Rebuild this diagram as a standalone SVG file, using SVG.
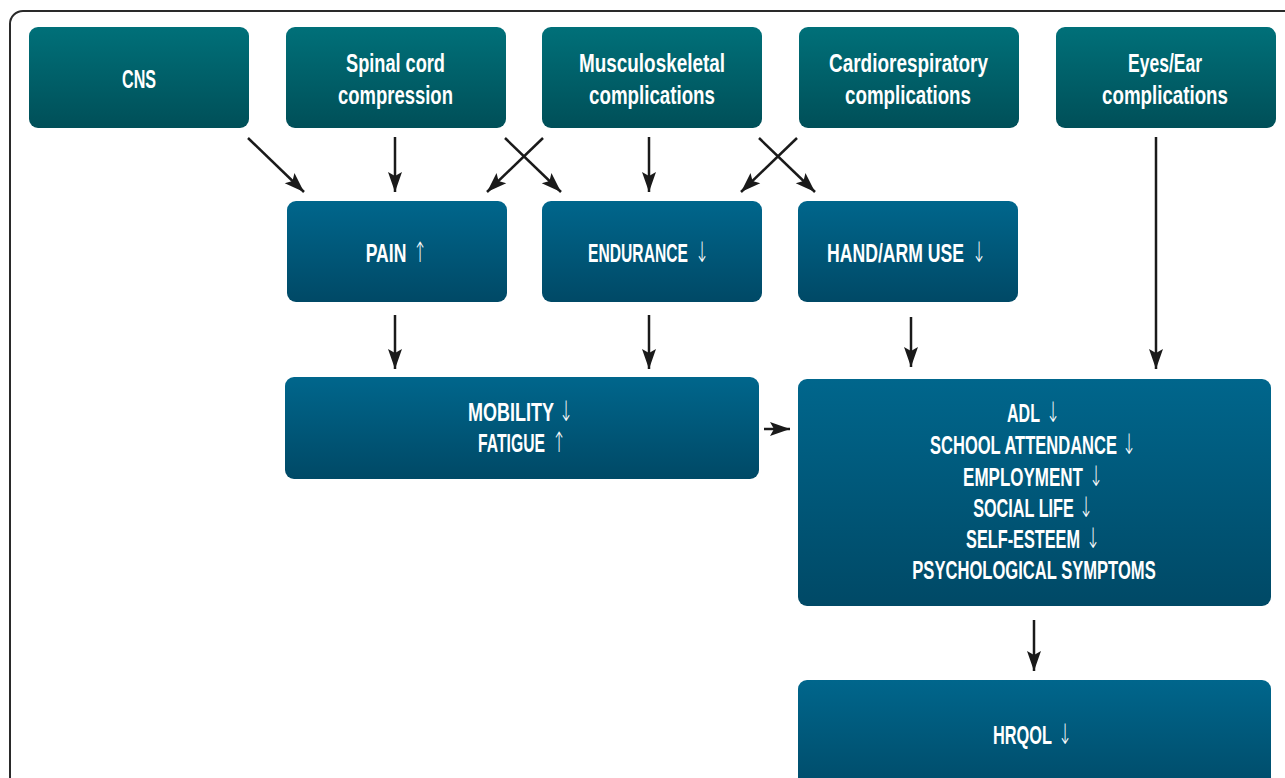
<svg xmlns="http://www.w3.org/2000/svg" width="1285" height="778" viewBox="0 0 1285 778">
<defs>
<linearGradient id="gT" x1="0" y1="0" x2="0" y2="1">
<stop offset="0" stop-color="#007079"/><stop offset="1" stop-color="#004f58"/>
</linearGradient>
<linearGradient id="gB" x1="0" y1="0" x2="0" y2="1">
<stop offset="0" stop-color="#00668c"/><stop offset="1" stop-color="#004966"/>
</linearGradient>
<marker id="ah" viewBox="0 0 20 16" refX="20" refY="8" markerWidth="20" markerHeight="16" markerUnits="userSpaceOnUse" orient="auto">
<path d="M0,1 L20,8 L0,15 L4,8 Z" fill="#1a1a1a"/>
</marker>
</defs>
<style>
.t{fill:url(#gT);}
.b{fill:url(#gB);}
text{font-family:"Liberation Sans",Arial,sans-serif;font-weight:bold;font-size:25px;fill:#fff;text-anchor:middle;}
.ar{font-family:"DejaVu Sans ExtraLight","DejaVu Sans",sans-serif;font-weight:200;font-size:28px;}
.c line{stroke:#1a1a1a;stroke-width:2.5;marker-end:url(#ah);}
</style>
<rect x="10" y="11" width="1320" height="820" rx="13" fill="#fff" stroke="#2a2a2a" stroke-width="2"/>

<g id="cns"><rect class="t" x="29" y="27" width="220" height="101" rx="9"/><text transform="translate(139,88) scale(0.644,1)">CNS</text></g>
<g id="spinal"><rect class="t" x="286" y="27" width="220" height="101" rx="9"/><text transform="translate(395.5,72) scale(0.727,1)">Spinal cord</text><text transform="translate(395.5,104) scale(0.738,1)">compression</text></g>
<g id="musculo"><rect class="t" x="542" y="27" width="220" height="101" rx="9"/><text transform="translate(652,72) scale(0.756,1)">Musculoskeletal</text><text transform="translate(652,104) scale(0.75,1)">complications</text></g>
<g id="cardio"><rect class="t" x="799" y="27" width="220" height="101" rx="9"/><text transform="translate(908.5,72) scale(0.758,1)">Cardiorespiratory</text><text transform="translate(908,104) scale(0.75,1)">complications</text></g>
<g id="eyes"><rect class="t" x="1056" y="27" width="220" height="101" rx="9"/><text transform="translate(1165,72) scale(0.70,1)">Eyes/Ear</text><text transform="translate(1165,104) scale(0.75,1)">complications</text></g>

<g id="pain"><rect class="b" x="287" y="201" width="220" height="101" rx="9"/><text transform="translate(386,262) scale(0.703,1)">PAIN</text><text class="ar" transform="translate(420,262) scale(0.6,1)">↑</text></g>
<g id="endurance"><rect class="b" x="542" y="201" width="220" height="101" rx="9"/><text transform="translate(638,262) scale(0.626,1)">ENDURANCE</text><text class="ar" transform="translate(702,262) scale(0.6,1)">↓</text></g>
<g id="hand"><rect class="b" x="798" y="201" width="220" height="101" rx="9"/><text transform="translate(895.5,262) scale(0.705,1)">HAND/ARM USE</text><text class="ar" transform="translate(979,262) scale(0.6,1)">↓</text></g>

<g id="mobility"><rect class="b" x="285" y="377" width="474" height="102" rx="9"/>
<text transform="translate(511,421) scale(0.72,1)">MOBILITY</text><text class="ar" transform="translate(566,421) scale(0.6,1)">↓</text>
<text transform="translate(511.5,452) scale(0.629,1)">FATIGUE</text><text class="ar" transform="translate(559,452) scale(0.6,1)">↑</text></g>
<g id="adl"><rect class="b" x="798" y="379" width="473" height="227" rx="9"/>
<text transform="translate(1023.5,422) scale(0.642,1)">ADL</text><text class="ar" transform="translate(1053,422) scale(0.6,1)">↓</text>
<text transform="translate(1023.5,454) scale(0.661,1)">SCHOOL ATTENDANCE</text><text class="ar" transform="translate(1129,454) scale(0.6,1)">↓</text>
<text transform="translate(1023,486) scale(0.68,1)">EMPLOYMENT</text><text class="ar" transform="translate(1096,486) scale(0.6,1)">↓</text>
<text transform="translate(1023.5,517) scale(0.649,1)">SOCIAL LIFE</text><text class="ar" transform="translate(1086,517) scale(0.6,1)">↓</text>
<text transform="translate(1023,548) scale(0.651,1)">SELF-ESTEEM</text><text class="ar" transform="translate(1093,548) scale(0.6,1)">↓</text>
<text transform="translate(1034,579) scale(0.663,1)">PSYCHOLOGICAL SYMPTOMS</text></g>
<g id="hrqol"><rect class="b" x="798" y="680" width="473" height="120" rx="9"/><text transform="translate(1022.5,744) scale(0.653,1)">HRQOL</text><text class="ar" transform="translate(1065,744) scale(0.6,1)">↓</text></g>

<g class="c" id="connectors">
<line x1="248" y1="138" x2="304" y2="192"/>
<line x1="395" y1="137" x2="395" y2="192"/>
<line x1="505" y1="138" x2="561" y2="192"/>
<line x1="543" y1="138" x2="487" y2="192"/>
<line x1="649" y1="137" x2="649" y2="192"/>
<line x1="759" y1="138" x2="815" y2="192"/>
<line x1="797" y1="138" x2="741" y2="192"/>
<line x1="1156" y1="137" x2="1156" y2="369"/>
<line x1="395" y1="315" x2="395" y2="369"/>
<line x1="649" y1="315" x2="649" y2="369"/>
<line x1="911" y1="317" x2="911" y2="367"/>
<line x1="764" y1="429" x2="790" y2="429"/>
<line x1="1034" y1="620" x2="1034" y2="671"/>
</g>
</svg>
